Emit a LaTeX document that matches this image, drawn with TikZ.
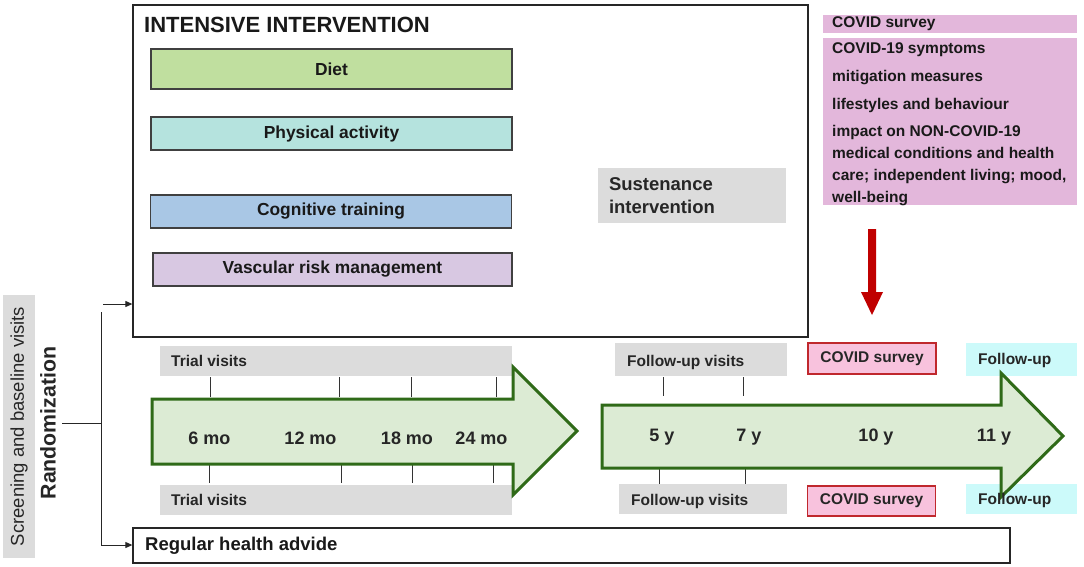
\documentclass[tikz,border=0pt]{standalone}
\usepackage{fontspec}
\setmainfont{Liberation Sans}
\usetikzlibrary{arrows.meta}
\definecolor{dietc}{HTML}{C0DF9F}
\definecolor{physc}{HTML}{B5E3DE}
\definecolor{cogc}{HTML}{A9C7E5}
\definecolor{vascc}{HTML}{D8C8E2}
\definecolor{grayc}{HTML}{DCDCDC}
\definecolor{listc}{HTML}{E3B7DB}
\definecolor{arrfill}{HTML}{DCEBD4}
\definecolor{arrline}{HTML}{2F6A18}
\definecolor{pinkc}{HTML}{F8C2DD}
\definecolor{pinkline}{HTML}{C0282D}
\definecolor{cyanc}{HTML}{CCFAFA}
\definecolor{redc}{HTML}{C00000}
\begin{document}
\begin{tikzpicture}[x=1pt,y=-1pt,
  comp/.style={draw=black!75, line width=1.1pt, minimum width=361pt, minimum height=33pt, inner sep=0pt, font=\fontsize{17.4}{20}\selectfont\bfseries, text=black!90},
  lbl/.style={inner sep=0pt, font=\fontsize{15.5}{18}\selectfont\bfseries, text=black!85},
  tick/.style={draw=black!80, line width=0.9pt},
  tp/.style={font=\fontsize{18}{20}\selectfont\bfseries, text=black!85},
  bigarrow/.style={draw=arrline, fill=arrfill, line width=3pt, line join=miter},
  link/.style={draw=black!85, line width=1pt},
  tip/.style={-{Triangle[length=7pt,width=6pt]}}
]
\useasboundingbox (0,0) rectangle (1084,566);
\fill[white] (0,0) rectangle (1084,566);

% intensive intervention box
\node[draw=black!85, line width=1.3pt, minimum width=675pt, minimum height=332pt, inner sep=0pt] (intensive) at (470.5,171) {};
\node[anchor=west, inner sep=0pt, font=\fontsize{22}{24}\selectfont\bfseries, text=black!90] (title) at (144,25) {INTENSIVE INTERVENTION};
\node[comp, fill=dietc, minimum height=40pt] (diet) at (331.5,69) {Diet};
\node[comp, fill=physc] (phys) at (331.5,133.5) {Physical activity};
\node[comp, fill=cogc] (cog) at (331,211.5) {Cognitive training};
\node[comp, fill=vascc, minimum width=359pt] (vasc) at (332.5,269.5) {Vascular risk management};
\node[fill=grayc, minimum height=55pt, text width=166pt, inner xsep=11pt, inner ysep=0pt, align=left, font=\fontsize{18.5}{22.5}\selectfont\bfseries, text=black!85] (sust) at (692,195.5) {Sustenance\\intervention};

% covid survey column
\node[fill=listc, minimum width=254pt, minimum height=18pt, inner sep=0pt] (covtop) at (950,24) {};
\node[lbl, anchor=west, text=black!90] (covtopt) at (832,24) {COVID survey};
\node[fill=listc, minimum width=254pt, minimum height=167pt, inner sep=0pt] (covlist) at (950,121.5) {};
\node[anchor=west, inner sep=0pt, align=left, font=\fontsize{15.5}{22}\selectfont\bfseries, text=black!90] (covlistt) at (832,124) {COVID-19 symptoms\\[6pt]mitigation measures\\[6pt]lifestyles and behaviour\\[5pt]impact on NON-COVID-19\\medical conditions and health\\care; independent living; mood,\\well-being};
\fill[redc] (868,229) -- (876,229) -- (876,292) -- (883,292) -- (872,315) -- (861,292) -- (868,292) -- cycle;

% timeline labels
\node[fill=grayc, anchor=north west, minimum width=352pt, minimum height=30pt, inner sep=0pt] (tv1) at (160,346) {};
\node[lbl, anchor=west] (tv1t) at (171,361) {Trial visits};
\node[fill=grayc, anchor=north west, minimum width=352pt, minimum height=30pt, inner sep=0pt] (tv2) at (160,485) {};
\node[lbl, anchor=west] (tv2t) at (171,500) {Trial visits};
\node[fill=grayc, anchor=north west, minimum width=172pt, minimum height=33pt, inner sep=0pt] (fu1) at (615,343) {};
\node[lbl, anchor=west] (fu1t) at (627,362) {Follow-up visits};
\node[fill=grayc, anchor=north west, minimum width=168pt, minimum height=30pt, inner sep=0pt] (fu2) at (619,484) {};
\node[lbl, anchor=west] (fu2t) at (631,501) {Follow-up visits};
\node[lbl, fill=pinkc, draw=pinkline, line width=1.1pt, minimum width=128pt, minimum height=31pt] (cs1) at (872,358.5) {COVID survey};
\node[lbl, fill=pinkc, draw=pinkline, line width=1.1pt, minimum width=128pt, minimum height=30pt] (cs2) at (871.5,501) {COVID survey};
\node[fill=cyanc, minimum width=111pt, minimum height=33pt, inner sep=0pt] (fo1) at (1021.5,359.5) {};
\node[fill=cyanc, minimum width=111pt, minimum height=30pt, inner sep=0pt] (fo2) at (1021.5,499) {};

% ticks
\foreach \x in {210,339,411,496} \draw[tick] (\x,377) -- (\x,397);
\foreach \x in {209,341,412,493} \draw[tick] (\x,464) -- (\x,483);
\foreach \x in {663,743} \draw[tick] (\x,377) -- (\x,396);
\foreach \x in {659,745} \draw[tick] (\x,466) -- (\x,484);

% big arrows
\draw[bigarrow] (152,399) -- (513,399) -- (513,367) -- (577,431) -- (513,495) -- (513,464) -- (152,464) -- cycle;
\draw[bigarrow] (602,405) -- (1001,405) -- (1001,373) -- (1063,436) -- (1001,497) -- (1001,468) -- (602,468) -- cycle;

\node[lbl, anchor=west] (fo1t) at (978,360) {Follow-up};
\node[lbl, anchor=west] (fo2t) at (978,500) {Follow-up};

\node[tp] (m6) at (209.5,438) {6 mo};
\node[tp] (m12) at (310.5,438) {12 mo};
\node[tp] (m18) at (407,438) {18 mo};
\node[tp] (m24) at (481.5,438) {24 mo};
\node[tp] (y5) at (662,437) {5 y};
\node[tp] (y7) at (749,437) {7 y};
\node[tp] (y10) at (876,437) {10 y};
\node[tp] (y11) at (994,437) {11 y};

% regular health advice
\node[draw=black!85, line width=1.3pt, minimum width=877pt, minimum height=35pt, inner sep=0pt] (regular) at (571.5,545.5) {};
\node[anchor=west, inner sep=0pt, font=\fontsize{18.5}{20}\selectfont\bfseries, text=black!90] (regt) at (145,546) {Regular health advide};

% left column
\node[fill=grayc, rotate=90, minimum width=263pt, minimum height=32pt, inner sep=0pt, font=\fontsize{18.5}{20}\selectfont, text=black!85] (screen) at (19,426.5) {Screening and baseline visits};
\node[rotate=90, inner sep=0pt, font=\fontsize{21.3}{24}\selectfont\bfseries, text=black!85] (rand) at (48,423) {Randomization};

% connectors
\coordinate (rstart) at (62,423);
\coordinate (junc) at (101,423);
\coordinate (vtop) at (101,312);
\coordinate (vbot) at (101,545);
\coordinate (atop) at (103,304);
\draw[link] (rstart) -- (junc);
\draw[link] (vtop) -- (vbot);
\draw[link, tip] (atop) -- (atop -| intensive.west);
\draw[link, tip] (vbot) -- (vbot -| regular.west);
\end{tikzpicture}
\end{document}
